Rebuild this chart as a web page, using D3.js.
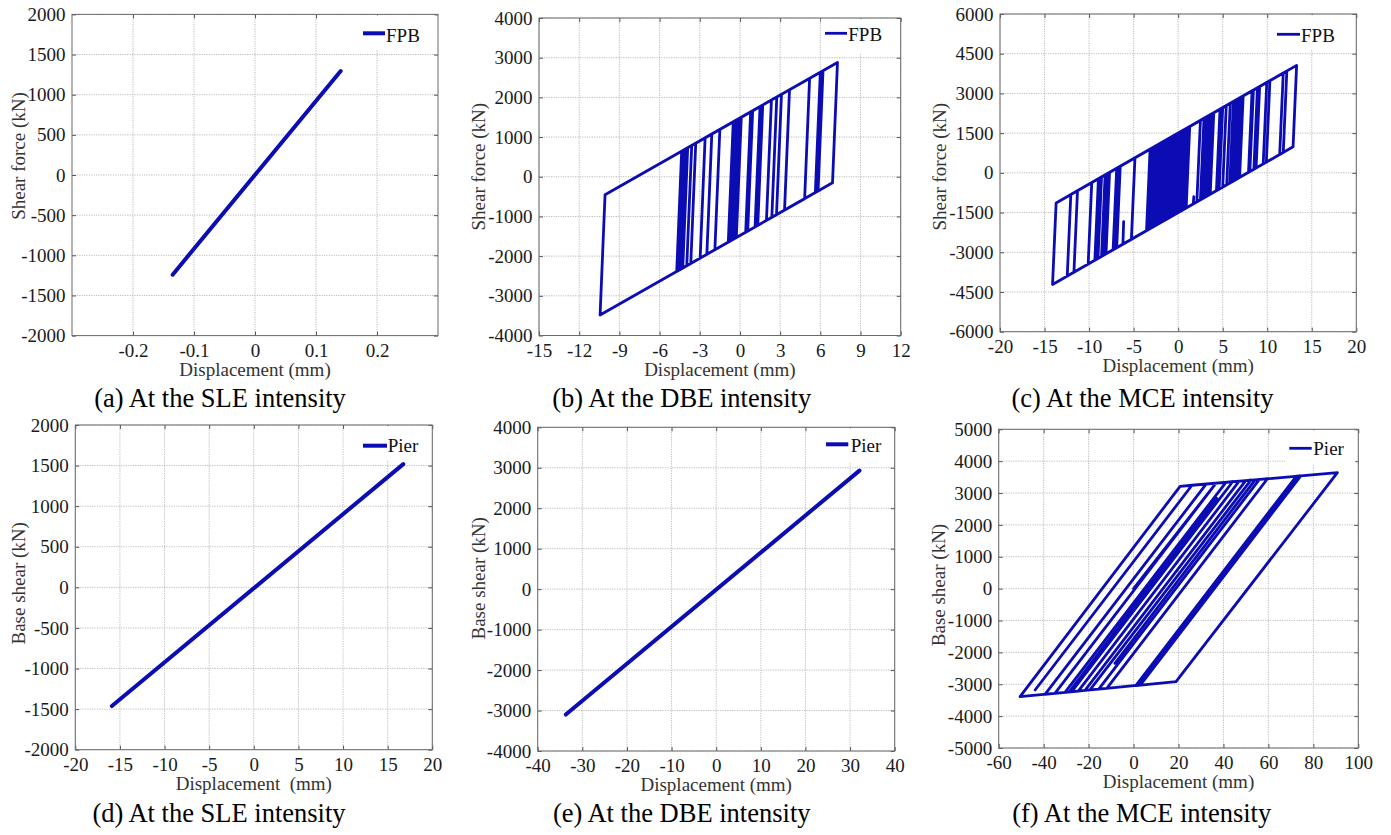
<!DOCTYPE html>
<html><head><meta charset="utf-8">
<script src="https://cdn.jsdelivr.net/npm/d3@7"></script>
<style>
body{margin:0;background:#fff}
svg{display:block}
text{font-family:"Liberation Serif","Times New Roman",serif}
</style>
</head><body>
<svg id="chart" width="1391" height="835"></svg>
<script>
// ---------------- DATA ----------------
// (a) FPB, SLE
const sleFpbDisp  = [-0.135, 0.1405];
const sleFpbForce = [-1241, 1295];
const sleFpbXTicks = [-0.2, -0.1, 0, 0.1, 0.2];
const sleFpbYTicks = [-2000, -1500, -1000, -500, 0, 500, 1000, 1500, 2000];

// (b) FPB, DBE  (path through reversal points)
const dbeFpbDisp = [-0.08, 0.1, 3.7, 3.33, -1.87, -1.5, 6.0, 5.63, -4.72, -4.35, 7.28, 6.91,
  -10.44, -10.07, 5.2, 4.83, -4.57, -4.2, 2.75, 2.38, -3.67, -3.3, 6.2, 5.83, -4.42, -4.05,
  3.1, 2.73, -2.97, -2.6, 1.5, 1.13, -0.87, -0.5, 0.95, 0.58, -4.27, -3.9, 2.35, 1.98,
  -3.97, -3.6, 1.7, 1.33, -2.47, -2.1, 0.8, 0.43, -0.67, -0.3, 0.1, -0.27, -0.47, -0.1, 0.3];
const dbeFpbForce = [0, 1499, 2190, -841, -1839, 1192, 2632, -399, -2386, 645, 2878, -153,
  -3484, -453, 2478, -553, -2357, 674, 2008, -1023, -2185, 846, 2670, -361, -2329, 702,
  2075, -956, -2050, 981, 1768, -1263, -1647, 1384, 1662, -1369, -2300, 731, 1931, -1100,
  -2242, 789, 1806, -1225, -1954, 1077, 1634, -1397, -1609, 1422, 1499, -1532, -1570, 1461, 1538];
const dbeFpbXTicks = [-15, -12, -9, -6, -3, 0, 3, 6, 9, 12];
const dbeFpbYTicks = [-4000, -3000, -2000, -1000, 0, 1000, 2000, 3000, 4000];

// (c) FPB, MCE
const mceFpbDisp = [0, 0.2, -0.2, -0.6, -0.2, 3.3, 2.9, -3.55, -3.15, 1.0, 0.6, -1.5, -1.1,
  8.3, 7.9, -8.6, -8.2, 5.0, 4.6, -5.25, -4.85, 13.3, 12.9,
  1.7, 1.76, 1.7, -6.2, -6.12, -6.2,
  -14.1, -13.7, 2.5, 2.1, -3.0, -2.6, 10.3, 9.9, -10.1, -9.7, 0.45, 0.05, -0.8, -0.4,
  6.6, 6.2, -7.3, -6.9, 3.9, 3.5, -2.7, -2.3, 9.15, 8.75, -9.35, -8.95, 1.3, 0.9, -1.8, -1.4,
  5.85, 5.45, -6.9, -6.5, 12.2, 11.8, -12.45, -12.05, 0.65, 0.25, -1.1, -0.7,
  7.1, 6.7, -8.1, -7.7, 2.9, 2.5, -3.3, -2.9, 8.9, 8.5, -9.0, -8.6, 4.7, 4.3, -2.05, -1.65,
  11.8, 11.4, -11.7, -11.3, 3.6, 3.2, -8.4, -8.0, 9.95, 9.55, -7.1, -6.7, 6.2, 5.8, -9.15, -8.75,
  5.4, 5.0,
  -3.4, -3.0, 6.4, 6.0, -2.4, -2.0, 3.45, 3.05, -1.3, -0.9, 8.45, 8.05, -2.85, -2.45,
  1.15, 0.75, -0.95, -0.55, 6.9, 6.5, -3.15, -2.75, 4.0, 3.6, -1.65, -1.25, 7.3, 6.9,
  -2.2, -1.8, 0.85, 0.45, -0.45, -0.05, 3.1, 2.7];
const mceFpbForce = [0, 1539, -1538, -1616, 1461, 2135, -942, -2183, 894, 1693, -1384, -1789, 1288,
  3098, 21, -3156, -79, 2463, -614, -2511, 566, 4060, 983,
  -1173, -900, -1173, -2694, -1845, -2694,
  -4214, -1137, 1981, -1096, -2078, 999, 3483, 406, -3444, -367, 1587, -1490, -1654, 1423,
  2771, -306, -2905, 172, 2251, -826, -2020, 1057, 3261, 184, -3300, -223, 1750, -1327, -1847, 1230,
  2626, -451, -2828, 249, 3849, 772, -3897, -820, 1625, -1452, -1712, 1365,
  2867, -210, -3059, 18, 2058, -1019, -2135, 942, 3213, 136, -3233, -156, 2405, -672, -1895, 1182,
  3772, 695, -3752, -675, 2193, -884, -3117, -40, 3415, 338, -2867, 210, 2694, -383, -3261, -184,
  2540, -537,
  -2155, 922, 2732, -345, -1962, 1115, 2164, -913, -1750, 1327, 3127, 50, -2049, 1028,
  1721, -1356, -1683, 1394, 2828, -249, -2106, 971, 2270, -807, -1818, 1259, 2905, -172,
  -1924, 1153, 1664, -1413, -1587, 1490, 2097, -980];
const mceFpbXTicks = [-20, -15, -10, -5, 0, 5, 10, 15, 20];
const mceFpbYTicks = [-6000, -4500, -3000, -1500, 0, 1500, 3000, 4500, 6000];

// (d) Pier, SLE
const slePierDisp  = [-15.9, 16.75];
const slePierForce = [-1462, 1518];
const slePierXTicks = [-20, -15, -10, -5, 0, 5, 10, 15, 20];
const slePierYTicks = [-2000, -1500, -1000, -500, 0, 500, 1000, 1500, 2000];

// (e) Pier, DBE
const dbePierDisp  = [-33.7, 32.1];
const dbePierForce = [-3100, 2930];
const dbePierXTicks = [-40, -30, -20, -10, 0, 10, 20, 30, 40];
const dbePierYTicks = [-4000, -3000, -2000, -1000, 0, 1000, 2000, 3000, 4000];

// (f) Pier, MCE
const mcePierDisp = [0, 36.7, 41.1, -30.5, -50.5, 20.7, 26.0, -43.8, 26.0, 47.0, -24.6,
  -39.4, 32.3, 52.2, -19.4, -35.0, 36.7, 44.1, -27.5, -28.6, 37.0, -28.6, -30.5, 41.1,
  49.9, -21.6, -24.6, 47.0, 54.1, -8.3, 54.1, 59.6, -11.9, -21.6, 49.9,
  90.7, 18.9, 1.0, 72.4, 74.4, 3.0, 2.6, 66.8, 2.6, 2.0, 73.4, 73.9, 2.5, -15.5, 56.0];
const mcePierForce = [0, 3309, 3336, -3254, -3390, 3211, 3244, -3180, 3244, 3372, -3214,
  -3315, 3282, 3403, -3179, -3285, 3309, 3354, -3234, -3241, 2835, -3241, -3254, 3336,
  3389, -3194, -3214, 3372, 3415, -2343, 3415, 3449, -3128, -3194, 3389,
  3638, -2918, -3040, 3527, 3539, -3027, -3030, 2885, -3030, -3033, 3533, 3536, -3030, -3152, 3427];
const mcePierXTicks = [-60, -40, -20, 0, 20, 40, 60, 80, 100];
const mcePierYTicks = [-5000, -4000, -3000, -2000, -1000, 0, 1000, 2000, 3000, 4000, 5000];

const fpbLabel = "FPB", pierLabel = "Pier";
const captions = ["(a) At the SLE intensity", "(b) At the DBE intensity", "(c) At the MCE intensity",
                  "(d) At the SLE intensity", "(e) At the DBE intensity", "(f) At the MCE intensity"];

// ---------------- LAYOUT ----------------
const blue = "#0c0cb4";
const hw = 2.8;
const panels = [
  {box:[72,438,14.4,335.6], xDom:[-0.3,0.3], yDom:[-2000,2000], xT:sleFpbXTicks, yT:sleFpbYTicks,
   xs:sleFpbDisp, ys:sleFpbForce, lw:4, name:fpbLabel, ylab:"Shear force (kN)", ylabPos:[24.5,156],
   xlab:"Displacement (mm)", cap:captions[0], capPos:[220,407], leg:{x1:363,x2:385,y:33.3,tx:386,ty:41.5}},
  {box:[539,900.7,18,335.5], xDom:[-15,12], yDom:[-4000,4000], xT:dbeFpbXTicks, yT:dbeFpbYTicks,
   xs:dbeFpbDisp, ys:dbeFpbForce, lw:hw, name:fpbLabel, ylab:"Shear force (kN)", ylabPos:[485,166.7],
   xlab:"Displacement (mm)", cap:captions[1], capPos:[681.7,407], leg:{x1:825,x2:847,y:33.3,tx:848.3,ty:40.5}},
  {box:[1000,1356.3,14,331.7], xDom:[-20,20], yDom:[-6000,6000], xT:mceFpbXTicks, yT:mceFpbYTicks,
   xs:mceFpbDisp, ys:mceFpbForce, lw:hw, name:fpbLabel, ylab:"Shear force (kN)", ylabPos:[946,166.7],
   xlab:"Displacement (mm)", cap:captions[2], capPos:[1142.5,407], leg:{x1:1277,x2:1300,y:34.3,tx:1301,ty:41.7}},
  {box:[75.3,432.3,425,749.7], xDom:[-20,20], yDom:[-2000,2000], xT:slePierXTicks, yT:slePierYTicks,
   xs:slePierDisp, ys:slePierForce, lw:4, name:pierLabel, ylab:"Base shear (kN)", ylabPos:[25,583.3],
   xlab:"Displacement  (mm)", cap:captions[3], capPos:[219,822], leg:{x1:363,x2:387,y:445.7,tx:387.7,ty:452.3}},
  {box:[537.7,894.7,427.3,751], xDom:[-40,40], yDom:[-4000,4000], xT:dbePierXTicks, yT:dbePierYTicks,
   xs:dbePierDisp, ys:dbePierForce, lw:4, name:pierLabel, ylab:"Base shear (kN)", ylabPos:[485,578.3],
   xlab:"Displacement (mm)", cap:captions[4], capPos:[681.7,822], leg:{x1:826,x2:848.3,y:444.3,tx:850.7,ty:451.7}},
  {box:[998.7,1358.3,429.3,748], xDom:[-60,100], yDom:[-5000,5000], xT:mcePierXTicks, yT:mcePierYTicks,
   xs:mcePierDisp, ys:mcePierForce, lw:hw, name:pierLabel, ylab:"Base shear (kN)", ylabPos:[945,585],
   xlab:"Displacement (mm)", cap:captions[5], capPos:[1141.7,822], leg:{x1:1289.3,x2:1311.7,y:448.3,tx:1313.3,ty:455}}
];

const svg = d3.select("#chart");
svg.append("rect").attr("width",1391).attr("height",835).attr("fill","#fff");

panels.forEach(p => {
  const [l, r, t, b] = p.box;
  const x = d3.scaleLinear().domain(p.xDom).range([l, r]);
  const y = d3.scaleLinear().domain(p.yDom).range([b, t]);
  const g = svg.append("g");

  // grid
  const grid = g.append("g").attr("stroke", "#bcbcbc").attr("stroke-width", 1).attr("stroke-dasharray", "1.2,1.2");
  grid.selectAll("line.gx").data(p.xT).join("line")
    .attr("x1", d => x(d)).attr("x2", d => x(d)).attr("y1", t).attr("y2", b);
  grid.selectAll("line.gy").data(p.yT).join("line")
    .attr("x1", l).attr("x2", r).attr("y1", d => y(d)).attr("y2", d => y(d));

  // data line
  const pts = p.xs.map((v, i) => [v, p.ys[i]]);
  g.append("path").datum(pts)
    .attr("d", d3.line().x(d => x(d[0])).y(d => y(d[1])))
    .attr("fill", "none").attr("stroke", blue).attr("stroke-width", p.lw)
    .attr("stroke-linejoin", "round").attr("stroke-linecap", "round");

  // axes (inward ticks)
  const fmt = d => String(d);
  const ax = g.append("g").attr("transform", `translate(0,${b})`)
    .call(d3.axisBottom(x).tickValues(p.xT).tickFormat(fmt).tickSizeInner(-4).tickSizeOuter(0).tickPadding(8));
  const ay = g.append("g").attr("transform", `translate(${l},0)`)
    .call(d3.axisLeft(y).tickValues(p.yT).tickFormat(fmt).tickSizeInner(-4).tickSizeOuter(0).tickPadding(6.5));
  const axt = g.append("g").attr("transform", `translate(0,${t})`)
    .call(d3.axisTop(x).tickValues(p.xT).tickFormat("").tickSizeInner(-4).tickSizeOuter(0));
  const ayr = g.append("g").attr("transform", `translate(${r},0)`)
    .call(d3.axisRight(y).tickValues(p.yT).tickFormat("").tickSizeInner(-4).tickSizeOuter(0));
  [ax, ay, axt, ayr].forEach(a => {
    a.select(".domain").remove();
    a.selectAll(".tick line").attr("stroke", "#555");
    a.selectAll(".tick text").attr("font-size", 19).attr("fill", "#1a1a1a")
      .attr("font-family", '"Liberation Serif","Times New Roman",serif');
  });

  // frame
  g.append("rect").attr("x", l).attr("y", t).attr("width", r - l).attr("height", b - t)
    .attr("fill", "none").attr("stroke", "#6a6a6a").attr("stroke-width", 1);

  // legend
  const lg = p.leg;
  g.append("rect").attr("x", lg.x1 - 4).attr("y", t + 1).attr("width", (r - 3) - (lg.x1 - 4)).attr("height", 34)
    .attr("fill", "#fff");
  g.append("line").attr("x1", lg.x1).attr("x2", lg.x2).attr("y1", lg.y).attr("y2", lg.y)
    .attr("stroke", blue).attr("stroke-width", p.lw);
  g.append("text").attr("x", lg.tx).attr("y", lg.ty).attr("font-size", 19).attr("fill", "#111").text(p.name);

  // axis labels
  g.append("text").attr("x", (l + r) / 2).attr("y", b + 40).attr("text-anchor", "middle")
    .attr("font-size", 19).attr("fill", "#333").style("white-space", "pre").text(p.xlab);
  g.append("text").attr("transform", `translate(${p.ylabPos[0]},${p.ylabPos[1]}) rotate(-90)`)
    .attr("text-anchor", "middle").attr("font-size", 19).attr("fill", "#333").text(p.ylab);

  // caption
  g.append("text").attr("x", p.capPos[0]).attr("y", p.capPos[1]).attr("text-anchor", "middle")
    .attr("font-size", 26.5).attr("fill", "#000").text(p.cap);
});
</script>
</body></html>
